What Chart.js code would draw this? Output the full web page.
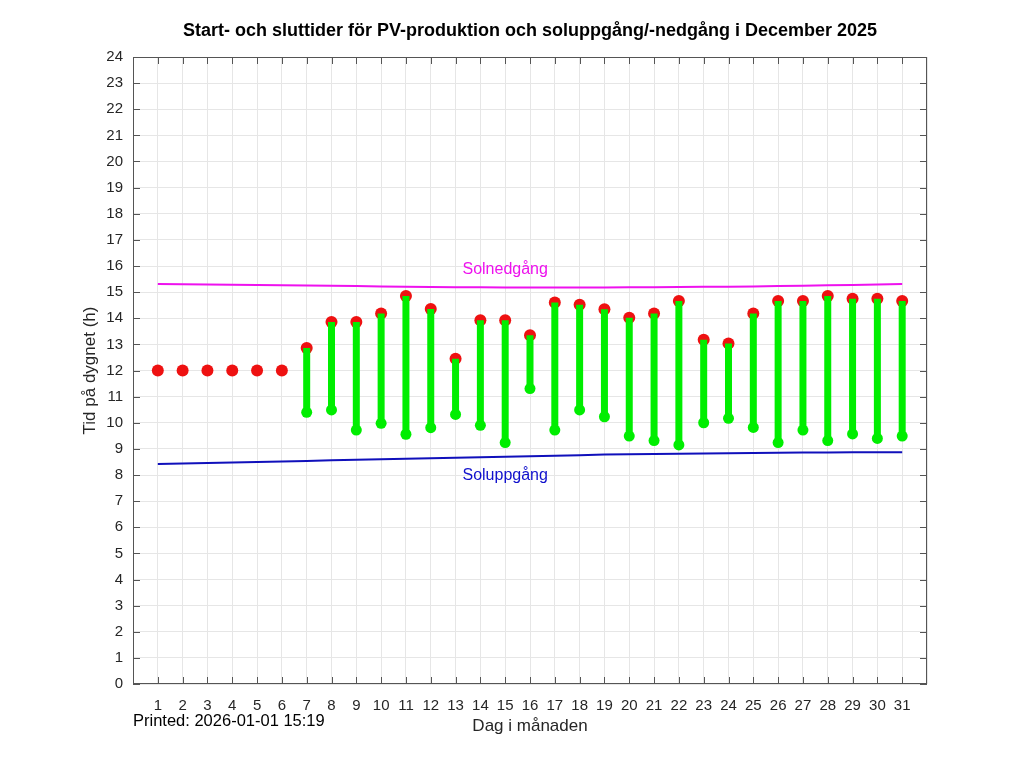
<!DOCTYPE html>
<html>
<head>
<meta charset="utf-8">
<script src="https://cdn.jsdelivr.net/npm/chart.js@4"></script>
<style>
html,body{margin:0;padding:0;background:#fff;}
canvas{display:block;}
</style>
</head>
<body>
<canvas id="c" width="1024" height="768"></canvas>
<script>
const days = [1,2,3,4,5,6,7,8,9,10,11,12,13,14,15,16,17,18,19,20,21,22,23,24,25,26,27,28,29,30,31];
const prodStart = [null,null,null,null,null,null,10.40,10.49,9.72,9.98,9.56,9.81,10.32,9.90,9.24,11.31,9.72,10.49,10.23,9.49,9.32,9.15,10.00,10.17,9.82,9.24,9.72,9.32,9.57,9.40,9.49];
const prodEnd = [12,12,12,12,12,12,12.86,13.86,13.86,14.18,14.85,14.35,12.45,13.92,13.92,13.35,14.60,14.52,14.34,14.02,14.18,14.66,13.18,13.03,14.18,14.66,14.66,14.85,14.75,14.75,14.66];
const sunrise = [8.42,8.44,8.46,8.48,8.50,8.52,8.54,8.56,8.58,8.60,8.62,8.64,8.66,8.68,8.70,8.72,8.74,8.76,8.78,8.79,8.80,8.81,8.82,8.83,8.84,8.85,8.86,8.86,8.87,8.87,8.87];
const sunset = [15.31,15.30,15.29,15.28,15.27,15.26,15.25,15.24,15.23,15.22,15.21,15.20,15.19,15.19,15.18,15.18,15.18,15.18,15.18,15.19,15.19,15.20,15.21,15.21,15.22,15.23,15.24,15.26,15.27,15.29,15.31];
const yTicks = [0,1,2,3,4,5,6,7,8,9,10,11,12,13,14,15,16,17,18,19,20,21,22,23,24];

const titleText = 'Start- och sluttider för PV-produktion och soluppgång/-nedgång i December 2025';
const xTitle = 'Dag i månaden';
const yTitle = 'Tid på dygnet (h)';
const printedText = 'Printed: 2026-01-01 15:19';
const sunsetLabel = 'Solnedgång';
const sunriseLabel = 'Soluppgång';

const FONT = "'Liberation Sans', Arial, Helvetica, sans-serif";
Chart.defaults.font.family = FONT;

const barSegs = [];
const startPts = [];
const endPts = [];
days.forEach((d, i) => {
  endPts.push({x: d, y: prodEnd[i]});
  if (prodStart[i] !== null) {
    barSegs.push({x: d, y: prodStart[i]});
    barSegs.push({x: d, y: prodEnd[i]});
    barSegs.push({x: d, y: null});
    startPts.push({x: d, y: prodStart[i]});
  }
});

const decor = {
  id: 'decor',
  afterDraw(chart) {
    const ctx = chart.ctx;
    const a = chart.chartArea;
    const xs = chart.scales.x, ys = chart.scales.y;
    ctx.save();
    ctx.strokeStyle = '#555555';
    ctx.lineWidth = 1;
    ctx.strokeRect(a.left + 0.5, a.top + 0.5, a.right - a.left - 1, a.bottom - a.top - 1);
    const tl = 7;
    ctx.beginPath();
    days.forEach(d => {
      const px = Math.round(xs.getPixelForValue(d)) + 0.5;
      ctx.moveTo(px, a.bottom); ctx.lineTo(px, a.bottom - tl);
      ctx.moveTo(px, a.top); ctx.lineTo(px, a.top + tl);
    });
    yTicks.forEach(v => {
      const py = Math.round(ys.getPixelForValue(v)) + 0.5;
      ctx.moveTo(a.left, py); ctx.lineTo(a.left + tl, py);
      ctx.moveTo(a.right, py); ctx.lineTo(a.right - tl, py);
    });
    ctx.stroke();
    ctx.fillStyle = '#000';
    ctx.font = 'bold 18px ' + FONT;
    ctx.textAlign = 'center';
    ctx.textBaseline = 'middle';
    ctx.fillText(titleText, (a.left + a.right) / 2, 31);
    ctx.font = '17px ' + FONT;
    ctx.fillStyle = '#262626';
    ctx.fillText(xTitle, (a.left + a.right) / 2, 726);
    ctx.save();
    ctx.translate(90, (a.top + a.bottom) / 2);
    ctx.rotate(-Math.PI / 2);
    ctx.fillText(yTitle, 0, 0);
    ctx.restore();
    ctx.font = '16.5px ' + FONT;
    ctx.textAlign = 'left';
    ctx.fillStyle = '#000';
    ctx.fillText(printedText, a.left, 721);
    ctx.textAlign = 'center';
    ctx.font = '16px ' + FONT;
    ctx.fillStyle = '#ee11ee';
    ctx.fillText(sunsetLabel, xs.getPixelForValue(15), ys.getPixelForValue(15.88));
    ctx.fillStyle = '#1010cc';
    ctx.fillText(sunriseLabel, xs.getPixelForValue(15), ys.getPixelForValue(7.98));
    ctx.restore();
  }
};

new Chart(document.getElementById('c'), {
  type: 'line',
  data: {
    datasets: [
      {
        label: 'start',
        data: startPts,
        showLine: false,
        pointRadius: 5.5,
        pointBackgroundColor: '#00ee00',
        pointBorderWidth: 0,
        order: 1
      },
      {
        label: 'bars',
        data: barSegs,
        borderColor: '#00ee00',
        borderWidth: 7,
        borderCapStyle: 'butt',
        pointRadius: 0,
        spanGaps: false,
        order: 2
      },
      {
        label: 'end',
        data: endPts,
        showLine: false,
        pointRadius: 6,
        pointBackgroundColor: '#ee1111',
        pointBorderWidth: 0,
        order: 3
      },
      {
        label: 'sunset',
        data: days.map((d, i) => ({x: d, y: sunset[i]})),
        borderColor: '#ee11ee',
        borderWidth: 2,
        pointRadius: 0,
        tension: 0,
        order: 4
      },
      {
        label: 'sunrise',
        data: days.map((d, i) => ({x: d, y: sunrise[i]})),
        borderColor: '#1010bb',
        borderWidth: 2,
        pointRadius: 0,
        tension: 0,
        order: 5
      }
    ]
  },
  options: {
    responsive: false,
    animation: false,
    devicePixelRatio: 1,
    layout: {padding: {top: 57, right: 97, left: 0, bottom: 0}},
    plugins: {legend: {display: false}, tooltip: {enabled: false}, title: {display: false}},
    scales: {
      x: {
        type: 'linear',
        min: 0, max: 32,
        afterFit(s) { s.height = 84; },
        afterBuildTicks(s) { s.ticks = Array.from({length: 33}, (_, i) => ({value: i})); },
        ticks: {
          autoSkip: false,
          maxRotation: 0,
          padding: 13,
          color: '#262626',
          font: {size: 15},
          callback: v => (v >= 1 && v <= 31 ? String(v) : '')
        },
        grid: {color: '#e6e6e6', drawTicks: false},
        border: {display: false}
      },
      y: {
        type: 'linear',
        min: 0, max: 24,
        afterFit(s) { s.width = 133; },
        afterBuildTicks(s) { s.ticks = yTicks.map(v => ({value: v})); },
        ticks: {
          autoSkip: false,
          padding: 10,
          color: '#262626',
          font: {size: 15}
        },
        grid: {color: '#e6e6e6', drawTicks: false},
        border: {display: false}
      }
    }
  },
  plugins: [decor]
});
</script>
</body>
</html>
